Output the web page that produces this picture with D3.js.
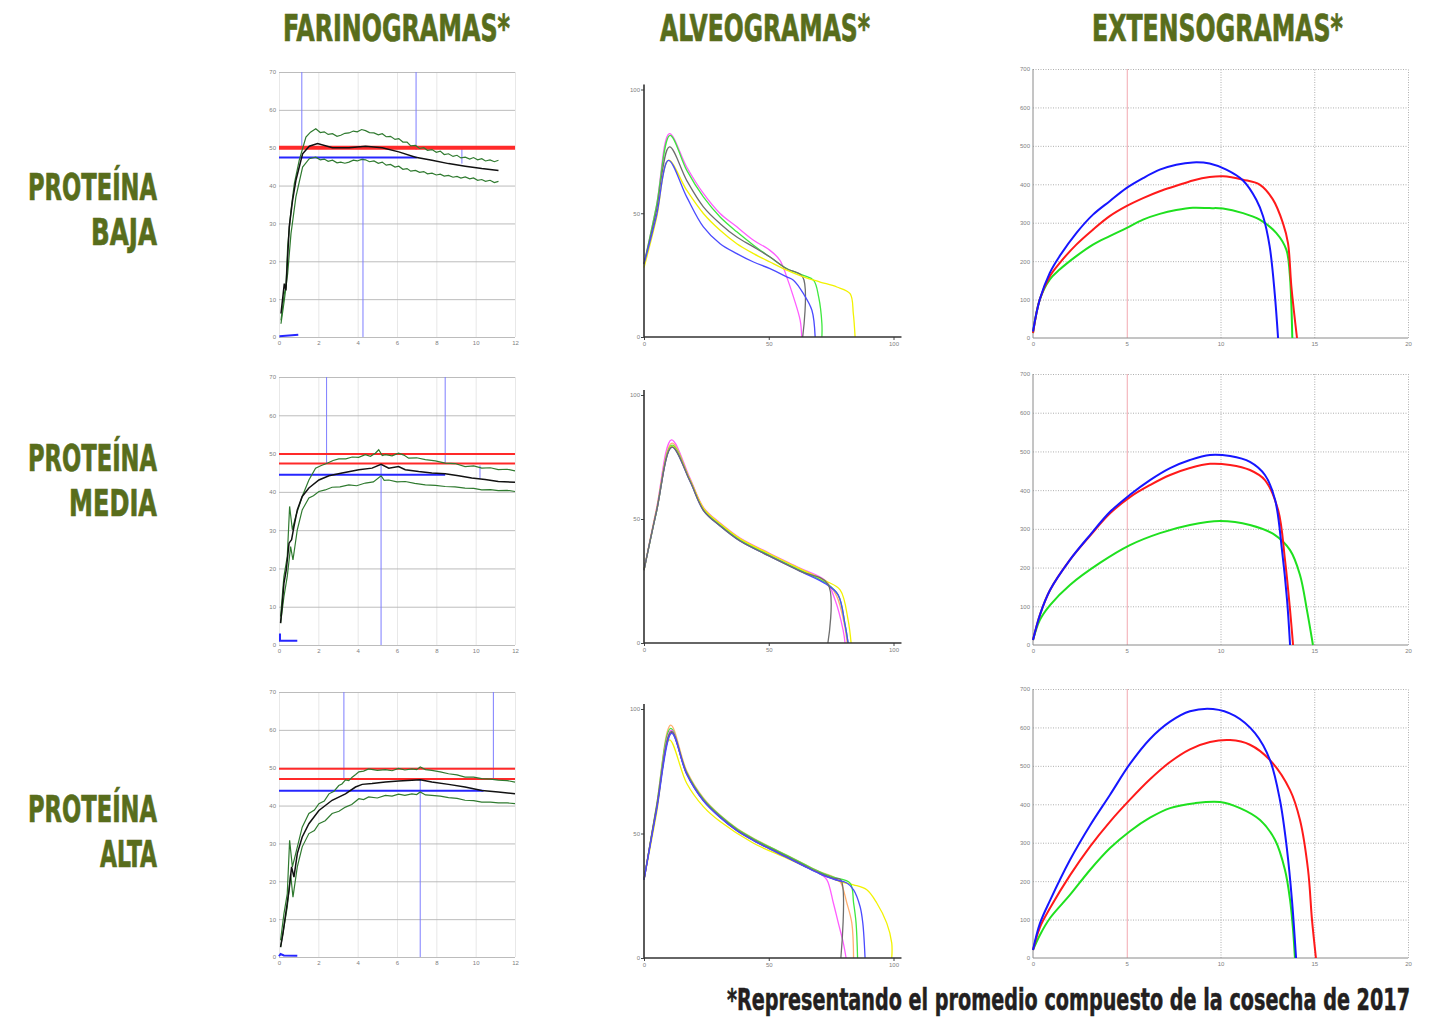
<!DOCTYPE html>
<html><head><meta charset="utf-8">
<script src="https://cdn.jsdelivr.net/npm/d3@7/dist/d3.min.js"></script>
<style>body{margin:0;background:#fff}svg{display:block}</style>
</head><body>
<svg id="c" width="1437" height="1019"></svg>
<script>
// ---------------- DATA ----------------
const titles = ["FARINOGRAMAS*", "ALVEOGRAMAS*", "EXTENSOGRAMAS*"];
const rowLabels = [["PROTEÍNA", "BAJA"], ["PROTEÍNA", "MEDIA"], ["PROTEÍNA", "ALTA"]];
const footnote = "*Representando el promedio compuesto de la cosecha de 2017";

const farinoXTicks = [0, 2, 4, 6, 8, 10, 12];
const farinoYTicks = [0, 10, 20, 30, 40, 50, 60, 70];
const alveoTicks = [0, 50, 100];
const extXTicks = [0, 5, 10, 15, 20];
const extYTicks = [0, 100, 200, 300, 400, 500, 600, 700];

// Farinogram: mean (black) curve, upper / lower band (green), per row
const farinoMean = [
  [[0.10,6.2],[0.27,14.1],[0.35,12.3],[0.52,29.1],[0.69,36.1],[0.86,41.4],[1.03,44.9],[1.20,48.4],[1.54,50.4],[1.96,51.1],[2.72,50.0],[3.56,50.0],[4.40,50.4],[5.25,50.0],[6.09,48.9],[6.94,47.5],[7.78,46.7],[8.62,45.8],[9.47,45.1],[10.31,44.5],[11.16,44.0]],
  [[0.08,5.7],[0.17,10.9],[0.25,16.1],[0.37,19.6],[0.51,26.6],[0.64,27.5],[0.76,30.9],[0.93,35.3],[1.18,38.8],[1.52,41.0],[2.03,43.1],[2.54,44.2],[3.21,44.9],[4.06,45.8],[4.73,46.2],[5.19,47.2],[5.58,46.2],[6.08,46.6],[6.42,45.8],[7.10,45.3],[7.77,44.9],[8.45,44.7],[9.13,44.2],[9.80,43.6],[10.48,43.2],[11.15,42.7],[12.0,42.5]],
  [[0.08,2.6],[0.20,6.2],[0.34,11.4],[0.51,17.6],[0.64,23.8],[0.76,21.1],[0.93,27.3],[1.18,31.7],[1.52,35.2],[2.03,38.7],[2.70,41.4],[3.38,43.1],[3.89,44.9],[4.23,45.6],[4.73,45.8],[5.41,46.2],[6.08,46.5],[6.76,46.7],[7.18,46.8],[7.77,46.2],[8.62,45.6],[9.46,44.9],[10.31,44.0],[11.15,43.6],[12.0,43.1]]
];
const farinoUpper = [
  [[0.10,4.4],[0.27,11.4],[0.35,13.2],[0.44,23.8],[0.61,33.5],[0.78,40.5],[1.03,46.7],[1.37,52.8],[1.60,54.1],[1.87,55.0],[2.10,54.0],[2.30,54.2],[2.50,53.5],[2.72,53.7],[2.95,53.0],[3.14,53.3],[3.35,53.8],[3.56,53.9],[3.78,54.4],[3.98,54.2],[4.20,54.8],[4.40,54.5],[4.60,54.0],[4.83,53.9],[5.05,53.4],[5.25,53.7],[5.45,52.9],[5.67,53.0],[5.90,52.2],[6.09,52.4],[6.30,51.5],[6.51,51.5],[6.70,50.5],[6.94,50.6],[7.15,49.8],[7.36,50.0],[7.55,49.3],[7.78,49.5],[8.00,48.8],[8.20,49.1],[8.40,48.2],[8.62,48.4],[8.85,47.7],[9.05,48.0],[9.25,47.3],[9.47,47.5],[9.70,47.0],[9.89,47.4],[10.10,46.8],[10.31,47.1],[10.50,46.5],[10.73,46.8],[10.95,46.3],[11.16,46.7]],
  [[0.08,7.4],[0.25,17.9],[0.42,23.1],[0.54,36.2],[0.68,30.1],[0.85,33.6],[1.18,38.8],[1.52,43.1],[1.86,46.2],[2.15,46.9],[2.42,47.4],[2.75,48.2],[3.04,48.6],[3.40,48.6],[3.72,49.1],[4.05,49.0],[4.39,49.7],[4.65,49.3],[4.90,50.1],[5.07,51.0],[5.25,49.5],[5.41,49.7],[5.75,49.4],[6.08,50.1],[6.35,49.6],[6.59,48.8],[7.00,48.9],[7.44,48.4],[7.95,48.1],[8.45,47.5],[8.95,47.4],[9.46,46.6],[9.90,46.8],[10.31,46.2],[10.75,46.3],[11.15,45.8],[11.60,45.9],[12.0,45.5]],
  [[0.08,4.4],[0.25,11.4],[0.42,16.7],[0.54,30.8],[0.68,23.8],[0.85,27.3],[1.18,34.3],[1.52,37.9],[1.80,38.8],[2.03,40.5],[2.30,41.2],[2.54,43.1],[2.80,43.8],[3.04,45.3],[3.20,45.7],[3.38,46.8],[3.55,46.6],[3.72,47.5],[3.90,48.2],[4.06,48.9],[4.30,49.1],[4.56,49.7],[5.00,49.3],[5.41,49.5],[5.75,49.2],[6.08,49.8],[6.40,49.4],[6.76,49.7],[7.00,49.5],[7.18,50.2],[7.45,49.5],[7.77,49.3],[8.20,48.9],[8.62,48.4],[9.05,48.1],[9.46,47.5],[9.90,47.5],[10.31,47.1],[10.75,47.0],[11.15,46.7],[11.60,46.6],[12.0,46.2]]
];
const farinoLower = [
  [[0.10,3.5],[0.27,9.7],[0.44,16.7],[0.61,27.3],[0.86,37.0],[1.20,44.9],[1.54,47.1],[1.87,47.5],[2.10,46.8],[2.30,47.0],[2.50,46.4],[2.72,46.7],[2.95,46.0],[3.14,46.2],[3.35,45.9],[3.56,46.2],[3.78,46.7],[3.98,46.5],[4.20,46.9],[4.40,46.8],[4.60,46.3],[4.83,46.5],[5.05,45.9],[5.25,46.2],[5.45,45.4],[5.67,45.6],[5.90,44.9],[6.09,45.1],[6.30,44.3],[6.51,44.5],[6.70,43.8],[6.94,44.0],[7.15,43.5],[7.36,43.7],[7.55,43.1],[7.78,43.3],[8.00,42.8],[8.20,43.0],[8.40,42.5],[8.62,42.7],[8.85,42.2],[9.05,42.4],[9.25,42.0],[9.47,42.3],[9.70,41.8],[9.89,42.0],[10.10,41.4],[10.31,41.6],[10.50,41.1],[10.73,41.4],[10.95,40.8],[11.16,41.1]],
  [[0.08,5.7],[0.25,12.6],[0.42,17.9],[0.59,25.7],[0.71,22.2],[0.93,30.1],[1.18,35.3],[1.52,38.4],[1.75,39.0],[2.03,40.1],[2.35,40.5],[2.70,41.2],[3.10,41.3],[3.55,41.8],[3.95,41.6],[4.39,42.3],[4.80,42.6],[5.19,44.2],[5.35,43.0],[5.58,43.1],[6.00,42.6],[6.42,42.7],[6.90,42.2],[7.44,41.8],[7.95,41.7],[8.45,41.4],[8.95,41.3],[9.46,41.0],[9.90,40.9],[10.31,40.5],[10.75,40.6],[11.15,40.3],[11.60,40.4],[12.0,40.1]],
  [[0.08,2.6],[0.25,7.9],[0.42,13.2],[0.59,22.0],[0.71,15.8],[0.93,23.8],[1.18,29.1],[1.52,32.6],[1.80,33.4],[2.03,35.2],[2.35,36.0],[2.70,37.9],[3.05,38.5],[3.38,39.6],[3.70,40.3],[4.06,41.8],[4.30,41.6],[4.56,42.3],[5.00,42.0],[5.41,42.7],[5.75,42.5],[6.08,43.0],[6.40,42.7],[6.76,43.1],[7.00,42.9],[7.18,43.6],[7.45,42.8],[7.77,42.7],[8.20,42.5],[8.62,42.1],[9.05,41.9],[9.46,41.4],[9.90,41.3],[10.31,40.9],[10.75,40.9],[11.15,40.7],[11.60,40.7],[12.0,40.5]]
];
const farinoRedLevels = [[50.0], [49.9, 47.4], [49.7, 47.0]];
const farinoBlueLevel = [[47.4, 7.0], [44.5, 8.45], [43.9, 10.4]];   // [level, end time]
const farinoMarkers = [   // [time, from, to]
  [[1.16, 70, 49.9], [6.97, 70, 49.4], [4.27, 0, 47.4], [9.30, 50.0, 45.8]],
  [[2.42, 70, 47.4], [8.45, 70, 47.4], [5.19, 0, 47.1], [10.22, 46.9, 43.4]],
  [[3.30, 70, 47.0], [10.90, 70, 47.0], [7.18, 0, 46.8]]
];
const farinoStart = [
  [[0.02, 0.2], [0.98, 0.6]],
  [[0.05, 3.0], [0.05, 1.1], [0.93, 1.1]],
  [[0.0, 0.2], [0.08, 0.8], [0.25, 0.4], [0.93, 0.3]]
];

// Alveograms
const alveoSeries = [
  {
    magenta: [[0,29.5],[5,53],[10.2,82.2],[17.1,68.7],[23.8,58.0],[30.5,49.9],[37.2,44.5],[43.9,39.1],[50.5,35.0],[54.5,31.0],[57.2,24.3],[59.9,16.2],[62.6,6.7],[63.2,0]],
    green:   [[0,29.5],[5,53],[10.4,81.5],[17.1,67.4],[23.8,56.6],[30.5,48.5],[37.2,42.5],[43.9,37.1],[50.5,32.3],[57.2,27.6],[63.9,24.9],[68.0,22.9],[70.0,16.2],[71.3,5.4],[71.3,0]],
    gray:    [[0,29.5],[5,51],[10.2,76.8],[17.1,63.3],[23.8,52.6],[30.5,45.8],[37.2,40.4],[43.9,36.4],[50.5,32.3],[57.2,27.6],[63.6,24.3],[63.6,0]],
    yellow:  [[0,28],[5,48],[9.8,71.4],[17.1,59.3],[23.8,49.9],[30.5,43.1],[37.2,37.7],[43.9,33.7],[50.5,30.3],[57.2,27.0],[63.9,24.3],[70.6,22.2],[77.3,20.2],[82.6,17.5],[83.9,9.4],[84.6,0]],
    blue:    [[0,29.5],[5,49],[9.8,71.4],[17.1,56.6],[23.8,44.5],[30.5,37.7],[37.2,33.7],[43.9,30.3],[50.5,27.6],[57.2,24.3],[59.9,22.9],[63.9,17.5],[67.3,10.8],[68.6,0]]
  },
  {
    magenta: [[0,29.4],[5,54],[11.0,81.9],[18.4,66.5],[24.0,54.4],[30.5,48.4],[38.5,42.3],[50.1,36.3],[62.5,30.2],[72.9,25.0],[76.6,17.3],[79.8,5.2],[80.6,0]],
    orange:  [[0,29.4],[5,54],[11.2,80.6],[18.4,66.0],[24.0,54.0],[30.5,48.0],[38.5,41.9],[50.1,35.9],[62.5,29.8],[72.9,24.6],[77.2,19.0],[80.4,7.0],[81.4,0]],
    green:   [[0,29.4],[5,53],[11.2,79.8],[18.4,65.7],[24.0,53.6],[30.5,47.6],[38.5,41.5],[50.1,35.5],[62.5,29.4],[72.9,24.2],[77.8,19.4],[80.6,7.3],[81.8,0]],
    yellow:  [[0,29.4],[5,53],[11.2,79.4],[18.4,65.9],[24.0,54.2],[30.5,48.2],[38.5,42.1],[50.1,36.1],[62.5,30.0],[72.9,25.0],[78.6,21.4],[81.8,9.3],[83.0,0]],
    blue:    [[0,29.4],[5,53],[11.2,79.0],[18.4,65.3],[24.0,53.2],[30.5,47.2],[38.5,41.1],[50.1,35.1],[62.5,29.0],[72.9,23.8],[77.8,19.4],[80.6,7.3],[81.8,0]],
    gray:    [[0,29.4],[5,53],[11.2,79.0],[18.4,65.3],[24.0,53.2],[30.5,47.2],[38.5,41.1],[50.1,35.1],[62.5,29.0],[73.7,23.8],[73.7,0]]
  },
  {
    yellow:  [[0,31.4],[5,58],[10.2,87.6],[17.1,70.2],[23.8,60.8],[30.5,54.8],[43.9,46.1],[57.2,40.1],[70.6,34.1],[78.6,30.7],[84.0,29.4],[89.3,27.4],[93.3,22.1],[97.3,14.0],[99.3,6.0],[99.3,0]],
    orange:  [[0,31.4],[5,61],[10.7,93.5],[17.1,75.2],[23.8,64.3],[30.5,57.4],[37.2,52.1],[43.9,48.1],[50.5,44.6],[57.2,41.3],[63.9,37.9],[70.6,34.6],[75.9,32.6],[78.6,30.7],[81.3,22.1],[83.3,14.0],[84.0,0]],
    green:   [[0,31.4],[5,61],[10.7,92.2],[17.1,74.6],[23.8,63.9],[30.5,57.2],[37.2,51.9],[43.9,47.9],[50.5,44.5],[57.2,41.2],[63.9,37.8],[70.6,34.5],[75.9,32.5],[82.6,30.1],[84.0,22.1],[85.0,14.0],[85.6,0]],
    magenta: [[0,31.4],[5,60],[10.9,91.5],[17.1,74.0],[23.8,63.3],[30.5,56.6],[37.2,51.3],[43.9,47.3],[50.5,43.9],[57.2,40.6],[63.9,37.2],[70.6,33.9],[73.3,31.4],[75.9,22.1],[77.9,14.0],[79.9,6.0],[81.0,0]],
    purple:  [[0,31.4],[5,60],[11.0,90.6],[17.1,74.0],[23.8,63.2],[30.5,56.5],[37.2,51.2],[43.9,47.2],[50.5,43.8],[57.2,40.5],[63.9,37.1],[70.6,33.8],[75.9,31.8],[78.9,30.8]],
    gray:    [[0,31.4],[5,60],[11.0,91.0],[17.1,74.2],[23.8,63.5],[30.5,56.8],[37.2,51.5],[43.9,47.5],[50.5,44.1],[57.2,40.8],[63.9,37.4],[70.6,34.1],[75.9,32.1],[78.9,31.4],[78.9,0]],
    blue:    [[0,31.4],[5,59],[11.1,90.2],[17.1,73.8],[23.8,63.1],[30.5,56.4],[37.2,51.1],[43.9,47.1],[50.5,43.7],[57.2,40.4],[63.9,37.0],[70.6,33.7],[75.9,31.7],[81.3,30.1],[84.0,27.4],[86.6,20.7],[87.7,14.0],[88.6,0]]
  }
];

// Extensograms
const extSeries = [
  {
    blue:  [[0,17],[0.36,100],[0.89,169],[1.42,213],[2.31,273],[3.2,321],[4.09,356],[4.98,390],[5.87,416],[6.76,438],[7.64,451],[8.53,457],[9.42,454],[10.31,438],[11.2,410],[11.91,360],[12.27,317],[12.62,239],[12.89,117],[13.07,0]],
    red:   [[0,13],[0.36,100],[0.89,160],[1.42,195],[2.31,243],[3.2,282],[4.09,317],[4.98,343],[5.87,364],[6.76,382],[7.64,396],[8.53,410],[9.42,419],[10.13,421],[11.2,412],[12.09,399],[12.8,360],[13.33,299],[13.6,247],[13.78,134],[14.08,0]],
    green: [[0,13],[0.36,100],[0.89,152],[1.42,178],[2.31,213],[3.2,243],[4.09,265],[4.98,286],[5.87,308],[6.76,323],[7.64,333],[8.53,339],[9.42,338],[10.13,337],[11.2,325],[12.09,308],[12.98,273],[13.51,230],[13.69,169],[13.83,0]]
  },
  {
    blue:  [[0,13],[0.37,78],[0.91,142],[1.97,220],[3.04,284],[4.11,344],[5.17,388],[6.24,426],[7.31,457],[8.37,478],[9.44,491],[10.51,488],[11.57,473],[12.37,439],[12.91,375],[13.28,245],[13.55,116],[13.71,0]],
    red:   [[0,13],[0.37,78],[0.91,142],[1.97,220],[3.04,282],[4.11,340],[5.17,382],[6.24,413],[7.31,439],[8.37,457],[9.44,468],[10.51,465],[11.57,452],[12.37,426],[13.07,349],[13.44,220],[13.71,90],[13.87,0]],
    green: [[0,13],[0.37,65],[0.91,103],[1.97,155],[3.57,212],[5.17,258],[6.77,289],[8.37,310],[9.97,320],[11.57,310],[12.91,284],[13.71,245],[14.24,181],[14.61,90],[14.93,0]]
  },
  {
    blue:  [[0,21],[0.37,90],[0.91,150],[1.97,255],[3.04,345],[4.11,425],[5.17,505],[6.24,570],[7.31,615],[8.37,642],[9.6,648],[10.77,630],[11.84,585],[12.64,515],[13.17,411],[13.55,281],[13.81,151],[14.03,0]],
    red:   [[0,21],[0.37,80],[0.91,130],[1.97,215],[3.04,290],[4.11,355],[5.17,412],[6.24,465],[7.31,510],[8.37,543],[9.44,562],[10.51,567],[11.57,555],[12.64,515],[13.71,437],[14.24,359],[14.67,229],[14.88,99],[15.09,0]],
    green: [[0,21],[0.37,60],[0.91,104],[1.97,164],[3.04,229],[4.11,286],[5.17,330],[6.24,365],[7.31,390],[8.64,403],[9.97,406],[11.04,390],[12.11,359],[12.91,307],[13.44,229],[13.71,151],[13.87,73],[13.97,0]]
  }
];

// ---------------- STYLE / LAYOUT ----------------
const olive = "#586d1c";
const headFont = "'Liberation Sans Narrow','Arial Narrow','DejaVu Sans Condensed',sans-serif";
const tickFont = "'Liberation Sans',Arial,sans-serif";
const alveoColors = {magenta:"#ff5cff", green:"#3fe83f", gray:"#6e6e6e", yellow:"#f2f200", blue:"#4a4aff", orange:"#ffb070", purple:"#6a3a9a"};
const extColors = {blue:"#1616ff", red:"#ff1a1a", green:"#1fe01f"};

const farinoBoxes = [{x0:279,x1:515,y0:337,y1:72},{x0:279,x1:515,y0:645,y1:377},{x0:279,x1:515,y0:957,y1:692}];
const alveoBoxes  = [{x0:644,x1:893.5,y0:337,y1:89.5},{x0:644,x1:893.5,y0:643,y1:395},{x0:644,x1:893.5,y0:958,y1:709}];
const extBoxes    = [{x0:1033,x1:1408,y0:338,y1:69},{x0:1033,x1:1408,y0:645,y1:374},{x0:1033,x1:1408,y0:958,y1:689}];

const svg = d3.select("#c");

// ---------------- HEADINGS ----------------
const titleGeom = [[396.5,227],[765,210],[1217.5,251]];
svg.selectAll("text.title").data(titles).join("text")
  .attr("class","title")
  .attr("x",(d,i)=>titleGeom[i][0]).attr("y",41)
  .attr("text-anchor","middle")
  .attr("textLength",(d,i)=>titleGeom[i][1]).attr("lengthAdjust","spacingAndGlyphs")
  .style("font-family",headFont).style("font-weight","bold").style("font-size","38px")
  .attr("fill",olive).attr("stroke",olive).attr("stroke-width",0.7).text(d=>d);

const rowGeom = [[200,245,129,66],[471,516,129,88],[822,867,129,57]];
rowLabels.forEach((lab,i)=>{
  [0,1].forEach(k=>{
    svg.append("text")
      .attr("x",157).attr("y",rowGeom[i][k])
      .attr("text-anchor","end")
      .attr("textLength",rowGeom[i][k+2]).attr("lengthAdjust","spacingAndGlyphs")
      .style("font-family",headFont).style("font-weight","bold").style("font-size","38px")
      .attr("fill",olive).attr("stroke",olive).attr("stroke-width",0.7).text(lab[k]);
  });
});

svg.append("text").attr("x",1410).attr("y",1010).attr("text-anchor","end")
  .attr("textLength",683).attr("lengthAdjust","spacingAndGlyphs")
  .style("font-family",headFont).style("font-weight","bold").style("font-size","30px")
  .attr("fill","#231f20").attr("stroke","#231f20").attr("stroke-width",0.5).text(footnote);

function styleTicks(g){
  g.selectAll("text").style("font-family",tickFont).style("font-size","6px").attr("fill","#808080");
}

// ---------------- FARINOGRAMS ----------------
farinoBoxes.forEach((b,i)=>{
  const x = d3.scaleLinear().domain([0,12]).range([b.x0,b.x1]);
  const y = d3.scaleLinear().domain([0,70]).range([b.y0,b.y1]);
  const g = svg.append("g");
  const gx = g.append("g").attr("transform",`translate(0,${b.y0})`)
    .call(d3.axisBottom(x).tickValues(farinoXTicks).tickSize(-(b.y0-b.y1)).tickPadding(4));
  gx.select(".domain").remove();
  gx.selectAll("line").attr("stroke","#e2e2e2").attr("stroke-width",0.8);
  styleTicks(gx);
  const gy = g.append("g").attr("transform",`translate(${b.x0},0)`)
    .call(d3.axisLeft(y).tickValues(farinoYTicks).tickSize(-(b.x1-b.x0)).tickPadding(3));
  gy.select(".domain").remove();
  gy.selectAll("line").attr("stroke","#b4b4b4").attr("stroke-width",0.9);
  styleTicks(gy);

  const line = d3.line().x(d=>x(d[0])).y(d=>y(d[1]));
  g.selectAll("line.mk").data(farinoMarkers[i]).join("line")
    .attr("x1",d=>x(d[0])).attr("x2",d=>x(d[0])).attr("y1",d=>y(d[1])).attr("y2",d=>y(d[2]))
    .attr("stroke","#7d7dff").attr("stroke-width",1);
  g.selectAll("line.rd").data(farinoRedLevels[i]).join("line")
    .attr("x1",x(0)).attr("x2",x(12)).attr("y1",d=>y(d)).attr("y2",d=>y(d))
    .attr("stroke","#ff2a2a").attr("stroke-width",i===0?4:2);
  g.append("line").attr("x1",x(0)).attr("x2",x(farinoBlueLevel[i][1]))
    .attr("y1",y(farinoBlueLevel[i][0])).attr("y2",y(farinoBlueLevel[i][0]))
    .attr("stroke","#2626ff").attr("stroke-width",2);
  g.append("path").attr("d",line(farinoUpper[i])).attr("fill","none").attr("stroke","#2f7a2f").attr("stroke-width",1.2);
  g.append("path").attr("d",line(farinoLower[i])).attr("fill","none").attr("stroke","#2f7a2f").attr("stroke-width",1.2);
  g.append("path").attr("d",line(farinoMean[i])).attr("fill","none").attr("stroke","#111").attr("stroke-width",1.5);
  g.append("path").attr("d",line(farinoStart[i])).attr("fill","none").attr("stroke","#2626ff").attr("stroke-width",2);
});

// ---------------- ALVEOGRAMS ----------------
alveoBoxes.forEach((b,i)=>{
  const x = d3.scaleLinear().domain([0,100]).range([b.x0,b.x1]);
  const y = d3.scaleLinear().domain([0,100]).range([b.y0,b.y1]);
  const g = svg.append("g");
  const line = d3.line().x(d=>x(d[0])).y(d=>y(d[1])).curve(d3.curveCatmullRom.alpha(0.5));
  Object.entries(alveoSeries[i]).forEach(([k,pts])=>{
    g.append("path").attr("d",line(pts)).attr("fill","none")
      .attr("stroke",alveoColors[k]).attr("stroke-width",1.3);
  });
  const gx = g.append("g").attr("transform",`translate(0,${b.y0})`)
    .call(d3.axisBottom(x).tickValues(alveoTicks).tickSize(3).tickPadding(2));
  gx.select(".domain").remove();
  gx.selectAll("line").attr("stroke","#444");
  styleTicks(gx);
  const gy = g.append("g").attr("transform",`translate(${b.x0},0)`)
    .call(d3.axisLeft(y).tickValues(alveoTicks).tickSize(3).tickPadding(1));
  gy.select(".domain").remove();
  gy.selectAll("line").attr("stroke","#444");
  styleTicks(gy);
  g.append("line").attr("x1",x(0)).attr("x2",x(103.2)).attr("y1",y(0)).attr("y2",y(0)).attr("stroke","#333").attr("stroke-width",1.6);
  g.append("line").attr("x1",x(0)).attr("x2",x(0)).attr("y1",y(0)).attr("y2",y(102)).attr("stroke","#333").attr("stroke-width",1.6);
});

// ---------------- EXTENSOGRAMS ----------------
extBoxes.forEach((b,i)=>{
  const x = d3.scaleLinear().domain([0,20]).range([b.x0,b.x1]);
  const y = d3.scaleLinear().domain([0,700]).range([b.y0,b.y1]);
  const g = svg.append("g");
  const gy = g.append("g").attr("transform",`translate(${b.x0},0)`)
    .call(d3.axisLeft(y).tickValues(extYTicks).tickSize(-(b.x1-b.x0)).tickPadding(3));
  gy.select(".domain").remove();
  gy.selectAll("line").attr("stroke","#9a9a9a").attr("stroke-width",0.8).attr("stroke-dasharray","1,1.5");
  gy.selectAll(".tick").filter(d=>d===0).select("line").remove();
  styleTicks(gy);
  const gx = g.append("g").attr("transform",`translate(0,${b.y0})`)
    .call(d3.axisBottom(x).tickValues(extXTicks).tickSize(-(b.y0-b.y1)).tickPadding(4));
  gx.select(".domain").remove();
  gx.selectAll("line").attr("stroke","#9a9a9a").attr("stroke-width",0.8).attr("stroke-dasharray","1,1.5");
  gx.selectAll(".tick").filter(d=>d===0).select("line").remove();
  gx.selectAll(".tick").filter(d=>d===5).select("line")
    .attr("stroke","#f2a8b0").attr("stroke-dasharray",null).attr("stroke-width",1);
  styleTicks(gx);
  g.append("line").attr("x1",x(0)).attr("x2",x(20)).attr("y1",y(0)).attr("y2",y(0)).attr("stroke","#8a8a8a").attr("stroke-width",1);
  g.append("line").attr("x1",x(0)).attr("x2",x(0)).attr("y1",y(0)).attr("y2",y(700)).attr("stroke","#8a8a8a").attr("stroke-width",1);
  const line = d3.line().x(d=>x(d[0])).y(d=>y(d[1])).curve(d3.curveCatmullRom.alpha(0.5));
  ["green","red","blue"].forEach(k=>{
    g.append("path").attr("d",line(extSeries[i][k])).attr("fill","none")
      .attr("stroke",extColors[k]).attr("stroke-width",2);
  });
});
</script>
</body></html>
